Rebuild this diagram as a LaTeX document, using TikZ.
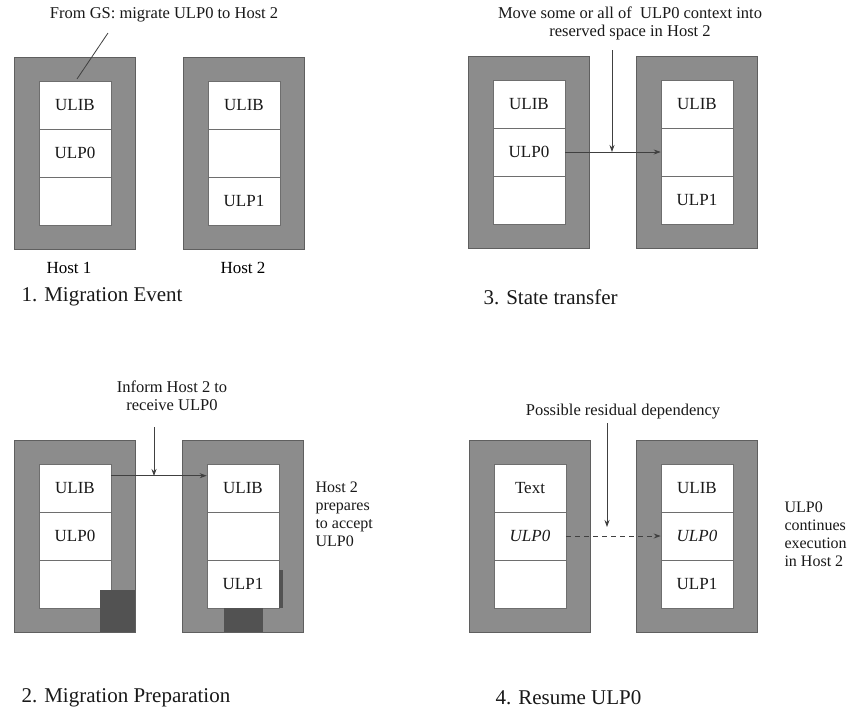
\documentclass[tikz,border=0pt]{standalone}
\usepackage{fontspec}
\setmainfont{Liberation Serif}
\usepackage{xcolor}
\usepackage{tikz}
\usetikzlibrary{arrows.meta, positioning, calc}
\definecolor{MigGrey}{RGB}{140, 140, 140}
\definecolor{MigEdge}{RGB}{95, 95, 95}
\definecolor{MigLine}{RGB}{110, 110, 110}
\definecolor{MigDark}{RGB}{82, 82, 82}
\definecolor{MigText}{RGB}{25, 25, 25}

\begin{document}
\begin{tikzpicture}[x=1pt,y=-1pt,
    host/.style={draw=MigEdge, line width=0.6pt, fill=MigGrey, minimum width=121pt, minimum height=192pt, inner sep=0pt},
    cell/.style={draw=MigLine, line width=0.6pt, fill=white, minimum width=72pt, minimum height=48pt, inner sep=0pt, font=\fontsize{17}{19}\selectfont, text=MigText},
    note/.style={align=center, font=\fontsize{16.5}{18}\selectfont, text=MigText},
    side/.style={align=left, anchor=west, font=\fontsize{16}{18}\selectfont, text=MigText},
    caption/.style={anchor=west, font=\fontsize{21}{23}\selectfont, text=MigText},
    link/.style={draw=black!75, line width=0.8pt, -{Stealth[length=7pt,width=5pt]}}]
  \path[use as bounding box] (0,0) rectangle (860,710);
  \fill[white] (0,0) rectangle (860,710);

  \foreach \n/\x/\y/\ta/\tb/\tc in {
      ma/75/153/ULIB/ULP0/{},
      mb/244/153/ULIB/{}/ULP1,
      sa/529/152/ULIB/ULP0/{},
      sb/697/152/ULIB/{}/ULP1,
      pa/75/536/ULIB/ULP0/{},
      pb/243/536/ULIB/{}/ULP1,
      ra/530/536/Text/\textit{ULP0}/{},
      rb/697/536/ULIB/\textit{ULP0}/ULP1}{
    \node[host] (\n) at (\x,\y) {};
    \node[cell] (\n-1) at (\x,\y-48) {\ta};
    \node[cell] (\n-2) at (\x,\y) {\tb};
    \node[cell] (\n-3) at (\x,\y+48) {\tc};
  }

  \fill[MigDark] (100,590) rectangle (135,632);
  \fill[MigDark] (224,608) rectangle (263,632);
  \fill[MigDark] (279,570) rectangle (283,608);

  \node[note] (gs) at (164,15) {From GS: migrate ULP0 to Host 2};
  \coordinate (gsend) at (77,79);
  \draw[draw=black!75, line width=0.8pt] (108,33) -- (gsend);
  \node (ma-lbl) at (69,268) {\fontsize{17}{19}\selectfont Host 1};
  \node (mb-lbl) at (243,268) {\fontsize{17}{19}\selectfont Host 2};
  \node[caption] (cap1) at (18,297) {1. Migration Event};

  \node[note] (mv) at (630,23) {Move some or all of \ ULP0 context into\\reserved space in Host 2};
  \coordinate (mvdrop) at (612,152);
  \draw[link] (sa-2.east) -- (sb-2.west);
  \draw[link] (612,50) -- (mvdrop);
  \node[caption] (cap3) at (480,297) {3. State transfer};

  \node[note] (inf) at (172,396) {Inform Host 2 to\\receive ULP0};
  \coordinate (infdrop) at (154,476);
  \draw[link] ([yshift=-12pt]pa-1.north east) -- ([yshift=-12pt]pb-1.north west);
  \draw[link] (154,427) -- (infdrop);
  \node[side] (prep) at (312,514) {Host 2\\prepares\\to accept\\ULP0};
  \node[caption] (cap2) at (18,698) {2. Migration Preparation};

  \node[note] (res) at (623,412) {Possible residual dependency};
  \coordinate (resdrop) at (607,527);
  \draw[link, line width=1pt, dash pattern=on 5pt off 4pt] (ra-2.east) -- (rb-2.west);
  \draw[link] (607,423) -- (resdrop);
  \node[side] (cont) at (781,534) {ULP0\\continues\\execution\\in Host 2};
  \node[caption] (cap4) at (492,698) {4. Resume ULP0};
\end{tikzpicture}
\end{document}
